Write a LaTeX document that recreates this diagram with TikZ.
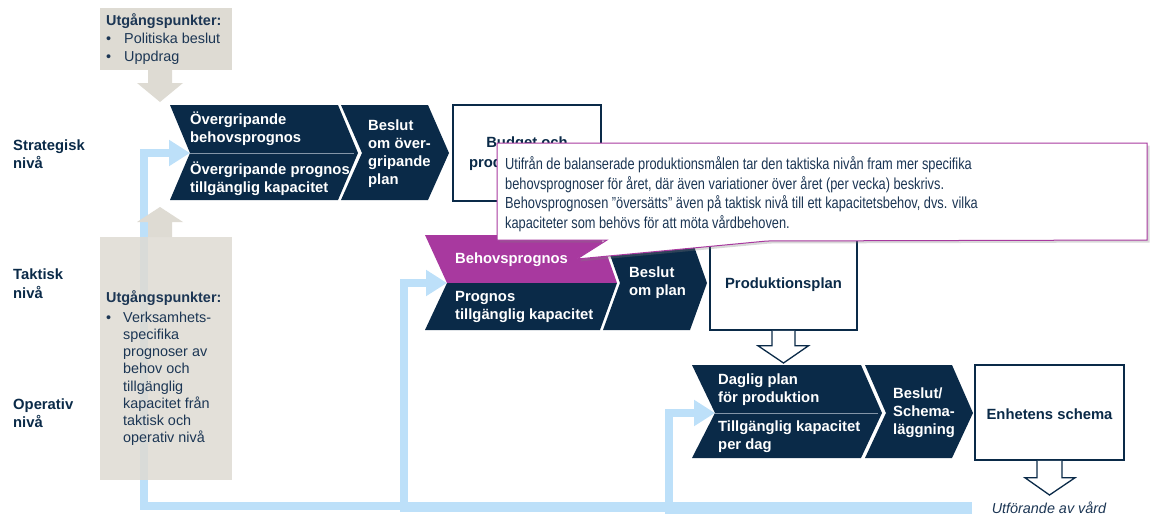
\documentclass[tikz,border=0pt]{standalone}
\usepackage{fontspec}
\setmainfont{Liberation Sans}
\newfontfamily\calloutfont[FakeStretch=0.8]{Liberation Sans}
\usetikzlibrary{arrows.meta,shadows,calc}
\definecolor{navy}{HTML}{0A2A48}
\definecolor{plum}{HTML}{A8399F}
\definecolor{stone}{HTML}{DEDBD3}
\definecolor{sky}{HTML}{BDE0F9}
\definecolor{divider}{HTML}{8395A8}
\definecolor{ink}{HTML}{1C3654}
\begin{document}
\begin{tikzpicture}[x=1pt,y=-1pt,
  level/.style={font=\fontsize{14.8}{18.5}\selectfont\bfseries, text=navy, align=left, inner sep=0, anchor=west},
  wtxt/.style={font=\fontsize{14.8}{18}\selectfont\bfseries, text=white, align=left, inner sep=0, anchor=west},
  gtxt/.style={font=\fontsize{14.4}{17.2}\selectfont, text=ink, align=left, inner sep=0, anchor=west},
  gbold/.style={gtxt, font=\fontsize{14.4}{17.2}\selectfont\bfseries},
  outbox/.style={draw=navy, line width=1.5pt, fill=white, inner sep=0},
  boxtxt/.style={font=\fontsize{14.8}{20}\selectfont\bfseries, text=navy, align=center, inner sep=0},
  hollow/.style={draw=navy, line width=1.3pt, fill=white, line join=miter},
  stonearrow/.style={fill=stone},
  feedback/.style={draw=sky, line width=8pt, -{Triangle[length=21pt,width=25pt]}},
  chev/.style={fill=navy},
  split/.style={draw=divider, line width=0.8pt}
]
\useasboundingbox (0,0) rectangle (1157,517);

% entry points of the three chevron rows
\coordinate (sIn) at (190,153);
\coordinate (tIn) at (447,283);
\coordinate (oIn) at (715,413);
% feedback loop starts at the right, under the care delivery
\coordinate (loopS) at (972,506);
\coordinate (loopT) at (972,508);
\coordinate (loopO) at (972,510);

% feedback arrows
\draw[feedback] (loopS) -| ($(sIn)+(-46,0)$) -- (sIn);
\draw[feedback] (loopT) -| ($(tIn)+(-43,0)$) -- (tIn);
\draw[feedback] (loopO) -| ($(oIn)+(-46,0)$) -- (oIn);

% starting points boxes
\node[fill=stone, minimum width=132pt, minimum height=62pt, inner sep=0] (inTop) at (166,39) {};
\fill[stonearrow] (148,70) -- (172,70) -- (172,83) -- (183,83) -- (160,102) -- (137,83) -- (148,83) -- cycle;
\node[fill=stone, fill opacity=0.86, minimum width=132pt, minimum height=243pt, inner sep=0] (inLow) at (166,358.5) {};
\fill[stonearrow] (148,237) -- (148,222) -- (137,222) -- (160,207) -- (183,222) -- (172,222) -- (172,237) -- cycle;

\node[gbold] (topHead) at (106,22) {\strut Utgångspunkter:};
\node[gtxt] (topB1) at (106,40) {\strut•};
\node[gtxt] (topT1) at (124,40) {\strut Politiska beslut};
\node[gtxt] (topB2) at (106,58) {\strut•};
\node[gtxt] (topT2) at (124,58) {\strut Uppdrag};

\node[gbold] (lowHead) at (106,299.5) {\strut Utgångspunkter:};
\node[gtxt, anchor=north west] (lowB1) at (106,310) {\strut•};
\node[gtxt, anchor=north west] (lowT1) at (123,310) {\strut Verksamhets-\\specifika\\prognoser av\\behov och\\tillgänglig\\kapacitet från\\taktisk och\\operativ nivå};

% level labels
\node[level] (lvlS) at (13,154) {Strategisk\\nivå};
\node[level] (lvlT) at (13,283.5) {Taktisk\\nivå};
\node[level] (lvlO) at (13,413) {Operativ\\nivå};

% strategic row
\fill[chev] (170,105) -- (338,105) -- (358,153) -- (338,200) -- (170,200) -- (sIn) -- cycle;
\draw[split] (sIn) -- (354,153);
\fill[chev] (341,105) -- (428,105) -- (449,153) -- (428,200) -- (341,200) -- (362,153) -- cycle;
\node[wtxt] (sNeed) at (190,128.5) {Övergripande\\behovsprognos};
\node[wtxt] (sCap) at (190,178.5) {Övergripande prognos\\tillgänglig kapacitet};
\node[wtxt] (sDec) at (368,153.5) {Beslut\\om över-\\gripande\\plan};
\node[outbox, minimum width=148pt, minimum height=96pt] (budget) at (527,153) {};
\node[boxtxt] (budgetT) at (527,154) {Budget och\\produktionsplan};

% tactical row
\fill[plum] (425,235) -- (600,235) -- (617,283) -- (tIn) -- cycle;
\fill[chev] (tIn) -- (617,283) -- (600,330) -- (425,330) -- cycle;
\fill[chev] (603,235) -- (690,235) -- (707,283) -- (690,330) -- (603,330) -- (620,283) -- cycle;
\node[wtxt] (tNeed) at (455,259.5) {Behovsprognos};
\node[wtxt] (tCap) at (455,307) {Prognos\\tillgänglig kapacitet};
\node[wtxt] (tDec) at (629,283) {Beslut\\om plan};
\node[outbox, minimum width=147pt, minimum height=95pt] (prodplan) at (783.5,282.5) {};
\node[boxtxt] (prodplanT) at (783.5,285) {Produktionsplan};

% arrow down to the operative row
\draw[hollow] ($(prodplan.south)+(-11.5,0)$) -- ++(0,15) -- ++(-14,0) -- (783.5,363) -- ($(prodplan.south)+(25,15)$) -- ++(-13.5,0) -- ++(0,-15);

% operative row
\fill[chev] (692,365) -- (861,365) -- (882,413) -- (861,458) -- (692,458) -- (oIn) -- cycle;
\draw[split] (oIn) -- (878,413);
\fill[chev] (865,365) -- (952,365) -- (973,413) -- (952,458) -- (865,458) -- (886,413) -- cycle;
\node[wtxt] (oPlan) at (718,390) {Daglig plan\\för produktion};
\node[wtxt] (oCap) at (718,437) {Tillgänglig kapacitet\\per dag};
\node[wtxt] (oDec) at (893,413) {Beslut/\\Schema-\\läggning};
\node[outbox, minimum width=149pt, minimum height=95pt] (unit) at (1049.5,412.5) {};
\node[boxtxt] (unitT) at (1049.5,414) {Enhetens schema};

\draw[hollow] ($(unit.south)+(-12.5,0)$) -- ++(0,17) -- ++(-12,0) -- (1049.5,495) -- ($(unit.south)+(25.5,17)$) -- ++(-13,0) -- ++(0,-17);
\node[font=\fontsize{14.4}{17}\selectfont\itshape, text=ink, inner sep=0] (care) at (1049,508) {Utförande av vård};

% explanatory callout on the tactical demand forecast
\filldraw[draw=plum, line width=1pt, fill=white, drop shadow={opacity=0.3, shadow xshift=2.5pt, shadow yshift=-2.5pt}]
  (497,143) -- (1147,143) -- (1147,240) -- (767,241) -- (577,259) -- (607,240) -- (497,240) -- cycle;
\node[font=\calloutfont\fontsize{16}{19.5}\selectfont, text=ink, align=left, inner sep=0, anchor=west] (note) at (505,194)
  {Utifrån de balanserade produktionsmålen tar den taktiska nivån fram mer specifika\\
   behovsprognoser för året, där även variationer över året (per vecka) beskrivs.\\
   Behovsprognosen ”översätts” även på taktisk nivå till ett kapacitetsbehov, dvs. vilka\\
   kapaciteter som behövs för att möta vårdbehoven.};
\end{tikzpicture}
\end{document}
